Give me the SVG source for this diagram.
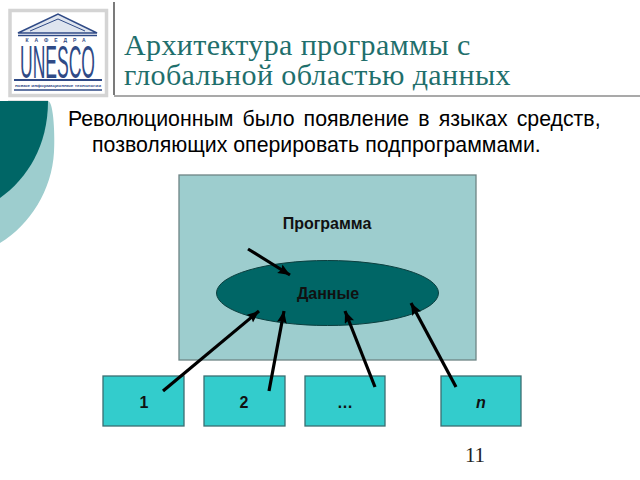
<svg xmlns="http://www.w3.org/2000/svg" width="640" height="480" viewBox="0 0 640 480">
<style>
.title{font:30px "Liberation Serif",serif;fill:#1f6f6c;letter-spacing:.4px}
.body{font:21.3px "Liberation Sans",sans-serif;fill:#000}
.lbl{font:bold 16px "Liberation Sans",sans-serif;fill:#111;text-anchor:middle}
.box{fill:#33cccc;stroke:#3b6f72;stroke-width:1.3}
.arrow{stroke:#000;stroke-width:3.2;fill:none;marker-end:url(#ah)}
.navy{fill:none;stroke:#2f4a86}
</style>
<defs>
<marker id="ah" markerUnits="userSpaceOnUse" markerWidth="14" markerHeight="12" refX="12" refY="5" orient="auto"><path d="M0,0L12,5L0,10L2,5z" fill="#000"/></marker>
</defs>
<rect width="640" height="480" fill="#fff"/>
<g id="decor">
<path d="M0,101H48C54,101 55,140 54,152C52,190 30,225 0,243z" fill="#9dcdce"/>
<path d="M0,101H48C48,145 28,178 0,198z" fill="#006666"/>
<path d="M114,2V95" stroke="#222" stroke-width="1.2"/>
<path d="M114,96H640" stroke="#555" stroke-width="1.2"/>
<path d="M8,100.500H48" stroke="#e4e4e4" stroke-width="1"/>
</g>
<g id="logo">
<rect x="10" y="10.500" width="96.500" height="85" fill="#fff" stroke="#d4d4d4" stroke-width="3.500"/>
<path d="M18,33L58,14L97,33z" fill="#dfe5ef" stroke="#2f4a86" stroke-width="1.500"/>
<path d="M30,31L58,19L85,31" class="navy" stroke-width="1"/>
<path d="M18,35.500H97" class="navy" stroke-width="1.500"/>
<text x="58.500" y="41.500" font-family="'Liberation Sans',sans-serif" font-size="5" font-weight="bold" fill="#2f4a86" text-anchor="middle" letter-spacing="6">КАФЕДРА</text>
<text x="20" y="78" font-family="'Liberation Sans',sans-serif" font-size="47" fill="#2f4a86" textLength="75" lengthAdjust="spacingAndGlyphs">UNESCO</text>
<path d="M14,80H102" class="navy" stroke-width="1.800"/>
<text x="15" y="86.500" font-family="'Liberation Sans',sans-serif" font-size="4" font-weight="bold" fill="#2f4a86" textLength="86" lengthAdjust="spacingAndGlyphs">новые информационные технологии</text>
<path d="M14,90H102" class="navy" stroke-width="1.500"/>
</g>
<g id="title">
<text class="title" x="124" y="55">Архитектура программы с</text>
<text class="title" x="124" y="85">глобальной областью данных</text>
</g>
<g id="body">
<text class="body" x="68" y="126" word-spacing="3.2">Революционным было появление в языках средств,</text>
<text class="body" x="92" y="152">позволяющих оперировать подпрограммами.</text>
</g>
<g id="program">
<rect x="179" y="175" width="297" height="185" fill="#9dcdce" stroke="#6e8485" stroke-width="1.300"/>
<text class="lbl" x="327" y="229">Программа</text>
</g>
<g id="data">
<ellipse cx="327.500" cy="293" rx="111" ry="32.500" fill="#006666" stroke="#0b3f3f" stroke-width="1"/>
<text class="lbl" x="328" y="299">Данные</text>
</g>
<g id="n1"><rect class="box" x="103" y="376" width="81" height="50"/><text class="lbl" x="144" y="408">1</text></g>
<g id="n2"><rect class="box" x="204" y="376" width="81" height="50"/><text class="lbl" x="244" y="408">2</text></g>
<g id="n3"><rect class="box" x="305" y="376" width="80" height="50"/><text class="lbl" x="345" y="408">…</text></g>
<g id="n4"><rect class="box" x="441" y="376" width="80" height="50"/><text class="lbl" x="481" y="408" style="font-style:italic">n</text></g>
<g id="connectors">
<path class="arrow" d="M248,249L290,275"/>
<path class="arrow" d="M163,391L259,311"/>
<path class="arrow" d="M269,391L284,311"/>
<path class="arrow" d="M375,387L345,311"/>
<path class="arrow" d="M456,387L411,303"/>
</g>
<text id="page" x="475" y="462" font-family="'Liberation Serif',serif" font-size="21" fill="#222" text-anchor="middle">11</text>
</svg>
